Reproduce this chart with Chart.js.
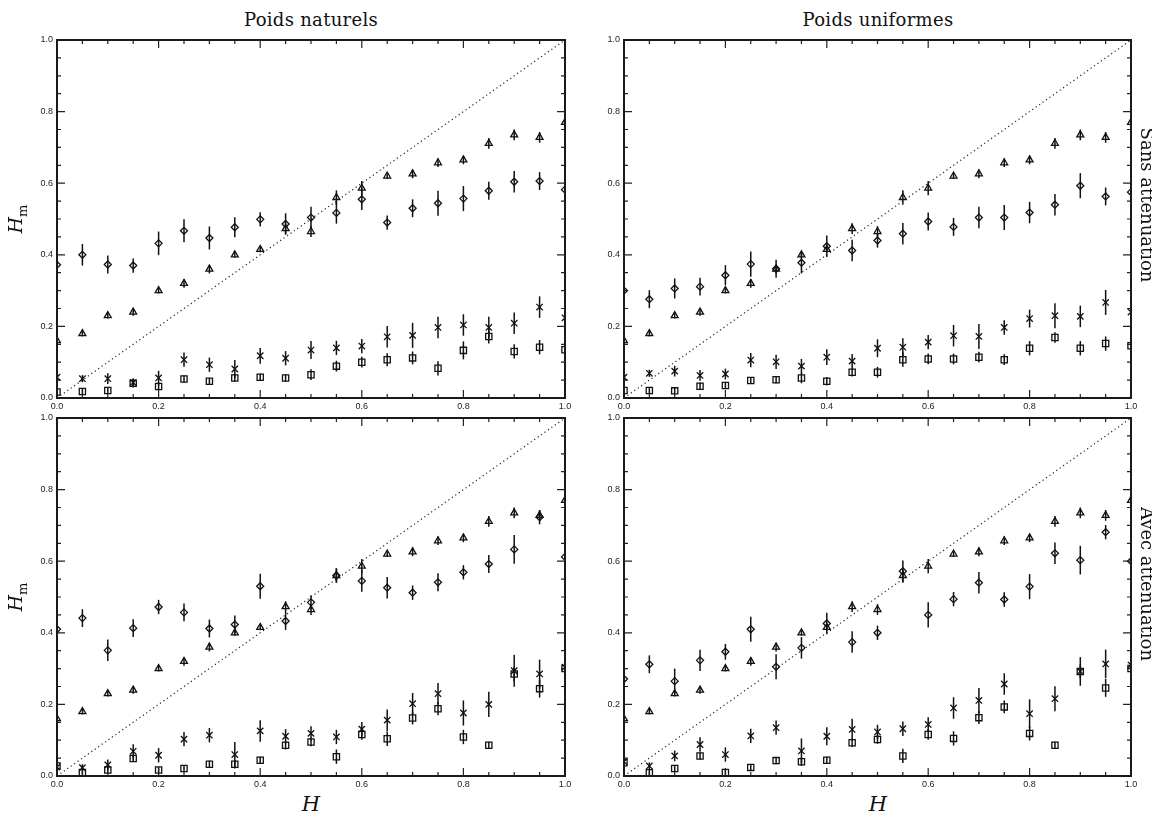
<!DOCTYPE html>
<html lang="fr">
<head>
  <meta charset="UTF-8" />
  <title>Hm en fonction de H</title>
  <script src="https://cdn.jsdelivr.net/npm/chart.js"></script>
  <style>
    body { margin: 0; background: #fff; }
    #page {
      position: relative;
      width: 1152px;
      height: 814px;
      overflow: hidden;
      background: #fff;
      font-family: "DejaVu Serif", serif;
      color: #111;
    }
    canvas { position: absolute; }
    .lab {
      position: absolute;
      white-space: nowrap;
      transform: translate(-50%, -50%);
    }
    .title { font-size: 18px; letter-spacing: 0.3px; }
    .side { font-size: 18px; transform: translate(-50%, -50%) rotate(90deg); }
    .ylab { font-size: 19px; transform: translate(-50%, -50%) rotate(-90deg); }
    .ylab sub { font-size: 13px; font-style: normal; }
    .xlab { font-size: 21px; font-style: italic; }
  </style>
</head>
<body>
<div id="page">
  <canvas id="c1"></canvas>
  <canvas id="c2"></canvas>
  <canvas id="c3"></canvas>
  <canvas id="c4"></canvas>

  <div class="lab title" style="left:311px; top:19px;">Poids naturels</div>
  <div class="lab title" style="left:878px; top:19px;">Poids uniformes</div>
  <div class="lab side" style="left:1147px; top:205px;">Sans atténuation</div>
  <div class="lab side" style="left:1147px; top:584px;">Avec atténuation</div>
  <div class="lab ylab" style="left:17px; top:219px;"><i>H</i><sub>m</sub></div>
  <div class="lab ylab" style="left:17px; top:597px;"><i>H</i><sub>m</sub></div>
  <div class="lab xlab" style="left:311px; top:804px;">H</div>
  <div class="lab xlab" style="left:878px; top:804px;">H</div>
</div>

<script>
  // valeurs de H (abscisses)
  const hValues = [0, 0.05, 0.1, 0.15, 0.2, 0.25, 0.3, 0.35, 0.4, 0.45, 0.5,
                   0.55, 0.6, 0.65, 0.7, 0.75, 0.8, 0.85, 0.9, 0.95, 1.0];
  const tickValues = [0, 0.2, 0.4, 0.6, 0.8, 1.0];
  const diagX = [0, 1];
  const diagY = [0, 1];

  // triangles (identiques dans les 4 cadres)
  const triVals = [0.16, 0.18, 0.23, 0.24, 0.30, 0.32, 0.36, 0.40, 0.415, 0.473, 0.465,
                   0.56, 0.586, 0.62, 0.626, 0.657, 0.665, 0.711, 0.735, 0.728, 0.77];
  const triErr  = [0.01, 0.008, 0.008, 0.01, 0.008, 0.012, 0.012, 0.008, 0.008, 0.015, 0.015,
                   0.02, 0.02, 0.008, 0.012, 0.012, 0.012, 0.015, 0.015, 0.015, 0.01];

  // Poids naturels, sans atténuation
  const natSansDia      = [0.372, 0.40, 0.373, 0.37, 0.432, 0.467, 0.447, 0.477, 0.499, 0.486, 0.504,
                           0.517, 0.555, 0.49, 0.53, 0.544, 0.557, 0.579, 0.604, 0.606, 0.582];
  const natSansDiaErr   = [0.02, 0.03, 0.025, 0.02, 0.033, 0.032, 0.032, 0.028, 0.02, 0.03, 0.03,
                           0.03, 0.03, 0.02, 0.025, 0.035, 0.035, 0.025, 0.03, 0.025, 0.02];
  const natSansCross    = [0.058, 0.054, 0.054, 0.043, 0.056, 0.107, 0.093, 0.081, 0.118, 0.111, 0.134,
                           0.14, 0.145, 0.171, 0.175, 0.197, 0.204, 0.197, 0.209, 0.254, 0.224];
  const natSansCrossErr = [0.01, 0.01, 0.015, 0.012, 0.02, 0.02, 0.02, 0.025, 0.022, 0.02, 0.025,
                           0.02, 0.02, 0.03, 0.035, 0.03, 0.03, 0.03, 0.03, 0.03, 0.02];
  const natSansSq       = [0.017, 0.018, 0.021, 0.041, 0.032, 0.053, 0.047, 0.056, 0.058, 0.056, 0.065,
                           0.089, 0.10, 0.107, 0.112, 0.083, 0.133, 0.172, 0.13, 0.142, 0.135];
  const natSansSqErr    = [0.008, 0.008, 0.01, 0.012, 0.01, 0.01, 0.008, 0.01, 0.01, 0.01, 0.015,
                           0.015, 0.015, 0.018, 0.018, 0.02, 0.025, 0.02, 0.02, 0.02, 0.015];

  // Poids uniformes, sans atténuation
  const uniSansDia      = [0.30, 0.276, 0.306, 0.311, 0.343, 0.374, 0.361, 0.378, 0.424, 0.412, 0.44,
                           0.459, 0.493, 0.478, 0.504, 0.504, 0.518, 0.54, 0.593, 0.563, 0.575];
  const uniSansDiaErr   = [0.02, 0.025, 0.028, 0.025, 0.028, 0.035, 0.025, 0.03, 0.03, 0.03, 0.02,
                           0.03, 0.025, 0.025, 0.03, 0.035, 0.03, 0.03, 0.035, 0.025, 0.02];
  const uniSansCross    = [0.058, 0.069, 0.075, 0.063, 0.067, 0.106, 0.101, 0.089, 0.114, 0.103, 0.139,
                           0.142, 0.156, 0.174, 0.172, 0.197, 0.222, 0.23, 0.228, 0.267, 0.24];
  const uniSansCrossErr = [0.01, 0.01, 0.015, 0.015, 0.015, 0.02, 0.02, 0.02, 0.022, 0.02, 0.025,
                           0.025, 0.02, 0.03, 0.035, 0.02, 0.025, 0.035, 0.03, 0.035, 0.02];
  const uniSansSq       = [0.021, 0.021, 0.02, 0.033, 0.035, 0.049, 0.051, 0.056, 0.047, 0.072, 0.072,
                           0.107, 0.109, 0.109, 0.114, 0.107, 0.139, 0.169, 0.139, 0.152, 0.146];
  const uniSansSqErr    = [0.008, 0.008, 0.008, 0.01, 0.01, 0.01, 0.01, 0.015, 0.012, 0.012, 0.015,
                           0.02, 0.015, 0.015, 0.015, 0.015, 0.02, 0.015, 0.02, 0.02, 0.015];

  // Poids naturels, avec atténuation
  const natAvecDia      = [0.41, 0.441, 0.351, 0.413, 0.472, 0.457, 0.412, 0.423, 0.53, 0.433, 0.485,
                           0.56, 0.545, 0.526, 0.512, 0.541, 0.569, 0.592, 0.633, 0.723, 0.612];
  const natAvecDiaErr   = [0.02, 0.025, 0.03, 0.025, 0.02, 0.025, 0.025, 0.025, 0.035, 0.025, 0.02,
                           0.02, 0.03, 0.03, 0.02, 0.025, 0.02, 0.025, 0.04, 0.02, 0.02];
  const natAvecCross    = [0.025, 0.023, 0.031, 0.069, 0.058, 0.103, 0.114, 0.06, 0.126, 0.111, 0.119,
                           0.109, 0.131, 0.156, 0.202, 0.23, 0.176, 0.20, 0.294, 0.285, 0.304];
  const natAvecCrossErr = [0.01, 0.01, 0.015, 0.02, 0.02, 0.02, 0.02, 0.035, 0.03, 0.02, 0.02,
                           0.02, 0.02, 0.03, 0.03, 0.03, 0.035, 0.035, 0.045, 0.04, 0.02];
  const natAvecSq       = [0.028, 0.01, 0.017, 0.049, 0.017, 0.021, 0.033, 0.033, 0.044, 0.086, 0.095,
                           0.054, 0.116, 0.104, 0.162, 0.188, 0.109, 0.086, 0.285, 0.244, 0.30];
  const natAvecSqErr    = [0.008, 0.008, 0.01, 0.01, 0.008, 0.008, 0.01, 0.012, 0.01, 0.012, 0.012,
                           0.02, 0.015, 0.02, 0.018, 0.018, 0.02, 0.01, 0.02, 0.025, 0.015];

  // Poids uniformes, avec atténuation
  const uniAvecDia      = [0.271, 0.312, 0.265, 0.323, 0.347, 0.41, 0.305, 0.358, 0.426, 0.374, 0.40,
                           0.572, 0.45, 0.494, 0.54, 0.493, 0.529, 0.622, 0.603, 0.681, 0.60];
  const uniAvecDiaErr   = [0.02, 0.025, 0.035, 0.03, 0.022, 0.035, 0.035, 0.03, 0.03, 0.03, 0.02,
                           0.03, 0.035, 0.02, 0.03, 0.02, 0.035, 0.03, 0.04, 0.02, 0.02];
  const uniAvecCross    = [0.04, 0.028, 0.056, 0.088, 0.06, 0.112, 0.135, 0.07, 0.111, 0.13, 0.123,
                           0.132, 0.144, 0.19, 0.211, 0.257, 0.174, 0.216, 0.292, 0.313, 0.31];
  const uniAvecCrossErr = [0.01, 0.01, 0.015, 0.02, 0.02, 0.02, 0.02, 0.035, 0.025, 0.03, 0.02,
                           0.02, 0.02, 0.03, 0.035, 0.03, 0.04, 0.035, 0.04, 0.04, 0.02];
  const uniAvecSq       = [0.037, 0.009, 0.021, 0.056, 0.01, 0.024, 0.043, 0.04, 0.044, 0.093, 0.102,
                           0.056, 0.116, 0.105, 0.163, 0.193, 0.119, 0.086, 0.292, 0.246, 0.30];
  const uniAvecSqErr    = [0.008, 0.008, 0.01, 0.01, 0.008, 0.008, 0.01, 0.012, 0.01, 0.012, 0.012,
                           0.02, 0.015, 0.02, 0.018, 0.018, 0.02, 0.01, 0.02, 0.025, 0.015];

  // marges du canvas autour de la zone de tracé
  const PAD_L = 45, PAD_T = 10, PAD_R = 12, PAD_B = 16;
  const INK = '#111';
  const tickFont = { family: '"Liberation Sans", Arial, sans-serif', size: 9 };

  // barres d'erreur verticales, sous les symboles
  const errorBars = {
    id: 'errorBars',
    beforeDatasetsDraw(chart) {
      const { ctx, chartArea: a, scales: { x, y } } = chart;
      ctx.save();
      ctx.beginPath();
      ctx.rect(a.left, a.top, a.right - a.left, a.bottom - a.top);
      ctx.clip();
      ctx.strokeStyle = INK;
      ctx.lineWidth = 1.5;
      chart.data.datasets.forEach(ds => {
        if (!ds.errors) return;
        ds.data.forEach((p, i) => {
          const px = x.getPixelForValue(p.x);
          ctx.beginPath();
          ctx.moveTo(px, y.getPixelForValue(p.y - ds.errors[i]));
          ctx.lineTo(px, y.getPixelForValue(p.y + ds.errors[i]));
          ctx.stroke();
        });
      });
      ctx.restore();
    }
  };

  // cadre + graduations vers l'intérieur sur les 4 côtés
  const frameTicks = {
    id: 'frameTicks',
    afterDraw(chart) {
      const { ctx, chartArea: a, scales: { x, y } } = chart;
      ctx.save();
      ctx.strokeStyle = '#222';
      ctx.lineWidth = 1.2;
      for (let i = 0; i <= 20; i++) {
        const v = i / 20;
        const len = i % 4 === 0 ? 8 : 4;
        const px = x.getPixelForValue(v);
        const py = y.getPixelForValue(v);
        ctx.beginPath();
        ctx.moveTo(px, a.bottom); ctx.lineTo(px, a.bottom - len);
        ctx.moveTo(px, a.top);    ctx.lineTo(px, a.top + len);
        ctx.moveTo(a.left, py);   ctx.lineTo(a.left + len, py);
        ctx.moveTo(a.right, py);  ctx.lineTo(a.right - len, py);
        ctx.stroke();
      }
      ctx.strokeStyle = '#1a1a1a';
      ctx.lineWidth = 2;
      ctx.strokeRect(a.left, a.top, a.right - a.left, a.bottom - a.top);
      ctx.restore();
    }
  };

  function series(vals, errs, style, r) {
    return {
      data: hValues.map((h, i) => ({ x: h, y: vals[i] })),
      errors: errs,
      pointStyle: style,
      pointRadius: r,
      pointBorderWidth: 1.3,
      pointBorderColor: INK,
      pointBackgroundColor: 'rgba(0,0,0,0)',
      showLine: false
    };
  }

  function axis(isX) {
    return {
      type: 'linear',
      min: 0,
      max: 1,
      afterFit: s => { if (isX) s.height = PAD_B; else s.width = PAD_L; },
      afterBuildTicks: s => { s.ticks = tickValues.map(v => ({ value: v })); },
      grid: { display: false, drawTicks: false },
      border: { display: false },
      ticks: {
        padding: isX ? 3 : 4,
        font: tickFont,
        color: '#222',
        autoSkip: false,
        maxRotation: 0,
        callback: v => Number(v).toFixed(1)
      }
    };
  }

  function makePanel(id, rect, dia, diaErr, crs, crsErr, sq, sqErr) {
    const cv = document.getElementById(id);
    cv.width = rect.w + PAD_L + PAD_R;
    cv.height = rect.h + PAD_T + PAD_B;
    cv.style.left = (rect.x - PAD_L) + 'px';
    cv.style.top = (rect.y - PAD_T) + 'px';

    new Chart(cv, {
      type: 'scatter',
      data: {
        datasets: [
          {
            type: 'line',
            data: diagX.map((v, i) => ({ x: v, y: diagY[i] })),
            borderColor: '#222',
            borderWidth: 1.2,
            borderDash: [1.2, 3],
            pointRadius: 0,
            fill: false
          },
          series(triVals, triErr, 'triangle', 4),
          series(dia, diaErr, 'rectRot', 3.5),
          series(crs, crsErr, 'crossRot', 4.5),
          series(sq, sqErr, 'rect', 4.4)
        ]
      },
      options: {
        responsive: false,
        animation: false,
        events: [],
        layout: { padding: { left: 0, top: PAD_T, right: PAD_R, bottom: 0 } },
        plugins: { legend: { display: false }, tooltip: { enabled: false } },
        scales: { x: axis(true), y: axis(false) }
      },
      plugins: [errorBars, frameTicks]
    });
  }

  makePanel('c1', { x: 57, y: 40, w: 508, h: 358 },
    natSansDia, natSansDiaErr, natSansCross, natSansCrossErr, natSansSq, natSansSqErr);
  makePanel('c2', { x: 624, y: 40, w: 507, h: 358 },
    uniSansDia, uniSansDiaErr, uniSansCross, uniSansCrossErr, uniSansSq, uniSansSqErr);
  makePanel('c3', { x: 57, y: 418, w: 508, h: 358 },
    natAvecDia, natAvecDiaErr, natAvecCross, natAvecCrossErr, natAvecSq, natAvecSqErr);
  makePanel('c4', { x: 624, y: 418, w: 507, h: 358 },
    uniAvecDia, uniAvecDiaErr, uniAvecCross, uniAvecCrossErr, uniAvecSq, uniAvecSqErr);
</script>
</body>
</html>
